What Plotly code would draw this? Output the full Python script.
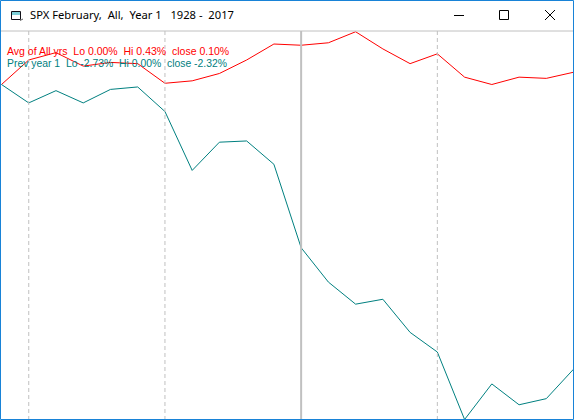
import plotly.graph_objects as go

W, H = 574, 420
BLUE = "#1883d7"
GRAY = "#c0c0c0"

# bar index, one point per trading day
days = list(range(22))
# percent change
avg_all_years = [0.00, 0.20, 0.26, 0.15, 0.18, 0.17, 0.01, 0.03, 0.09, 0.20, 0.33, 0.32,
                 0.34, 0.43, 0.29, 0.17, 0.25, 0.06, 0.00, 0.06, 0.05, 0.10]
prev_year_1 = [0.00, -0.15, -0.05, -0.15, -0.04, -0.02, -0.22, -0.70, -0.47, -0.46, -0.65, -1.33,
               -1.61, -1.79, -1.75, -2.02, -2.18, -2.73, -2.44, -2.61, -2.56, -2.32]
minor_marks = [1, 6, 16]
major_mark = 11

title_text = "SPX February,\u00a0 All,\u00a0 Year 1\u00a0\u00a0 1928 -\u00a0 2017"
avg_label = "Avg of All yrs\u00a0 Lo 0.00%\u00a0 Hi 0.43%\u00a0 close 0.10%"
prev_label = "Prev year 1\u00a0 Lo -2.73%\u00a0 Hi 0.00%\u00a0 close -2.32%"

fig = go.Figure()

fig.add_trace(go.Scatter(x=days, y=avg_all_years, mode="lines", line=dict(color="#ff0000", width=1)))
fig.add_trace(go.Scatter(x=days, y=prev_year_1, mode="lines", line=dict(color="#008080", width=1)))


def px_x(p):
    return p / W


def px_y(p):
    return 1 - p / H


# vertical markers on the chart
top = px_y(31)
for d in minor_marks:
    fig.add_shape(type="line", xref="x", yref="paper", x0=d, x1=d, y0=0, y1=top,
                  line=dict(color=GRAY, width=1, dash="4px,3px"))
fig.add_shape(type="line", xref="x", yref="paper", x0=major_mark, x1=major_mark, y0=0, y1=top,
              line=dict(color=GRAY, width=2))

# window chrome: title bar rule and border
fig.add_shape(type="line", xref="paper", yref="paper", x0=0, x1=1, y0=top, y1=top,
              line=dict(color=GRAY, width=1))
fig.add_shape(type="rect", xref="paper", yref="paper", x0=px_x(0.5), x1=px_x(W - 0.5),
              y0=px_y(H - 0.5), y1=px_y(0.5), line=dict(color=BLUE, width=1))

# window buttons
fig.add_shape(type="line", xref="paper", yref="paper", x0=px_x(454), x1=px_x(464),
              y0=px_y(15.5), y1=px_y(15.5), line=dict(color="#000000", width=1))
fig.add_shape(type="rect", xref="paper", yref="paper", x0=px_x(499.5), x1=px_x(508.5),
              y0=px_y(19.5), y1=px_y(10.5), line=dict(color="#000000", width=1))
fig.add_shape(type="line", xref="paper", yref="paper", x0=px_x(545), x1=px_x(555),
              y0=px_y(10), y1=px_y(20), line=dict(color="#000000", width=1))
fig.add_shape(type="line", xref="paper", yref="paper", x0=px_x(545), x1=px_x(555),
              y0=px_y(20), y1=px_y(10), line=dict(color="#000000", width=1))

# little window icon: teal caption strip, dark outline, small tail
fig.add_shape(type="rect", xref="paper", yref="paper", x0=px_x(12), x1=px_x(20),
              y0=px_y(15), y1=px_y(12), fillcolor="#7fd0d8", line=dict(width=0))
fig.add_shape(type="rect", xref="paper", yref="paper", x0=px_x(11.5), x1=px_x(20.5),
              y0=px_y(19.5), y1=px_y(11.5), line=dict(color="#101018", width=1))
fig.add_shape(type="line", xref="paper", yref="paper", x0=px_x(20), x1=px_x(23),
              y0=px_y(20.5), y1=px_y(19), line=dict(color="#606060", width=1))

fig.add_annotation(xref="paper", yref="paper", x=px_x(28), y=px_y(15), text=title_text,
                   showarrow=False, xanchor="left", yanchor="middle",
                   font=dict(family="Noto Sans", size=11.2, color="#000000"))
fig.add_annotation(xref="paper", yref="paper", x=px_x(5), y=px_y(50.5), text=avg_label,
                   showarrow=False, xanchor="left", yanchor="middle",
                   font=dict(family="Liberation Sans", size=10.5, color="#ff0000"))
fig.add_annotation(xref="paper", yref="paper", x=px_x(5), y=px_y(63.5), text=prev_label,
                   showarrow=False, xanchor="left", yanchor="middle",
                   font=dict(family="Liberation Sans", size=10.4, color="#008080"))

fig.update_xaxes(visible=False, range=[-0.055, 21.017])
fig.update_yaxes(visible=False, range=[-2.734, 0.6887])
fig.update_layout(
    width=W, height=H,
    margin=dict(l=0, r=0, t=0, b=0),
    plot_bgcolor="#ffffff",
    paper_bgcolor="#ffffff",
    showlegend=False,
)

# the page's default body margin would shift the whole window by 8px
fig.write_html("out.html", config={"displayModeBar": False},
               post_script="document.body.style.margin='0';document.body.style.overflow='hidden';")
